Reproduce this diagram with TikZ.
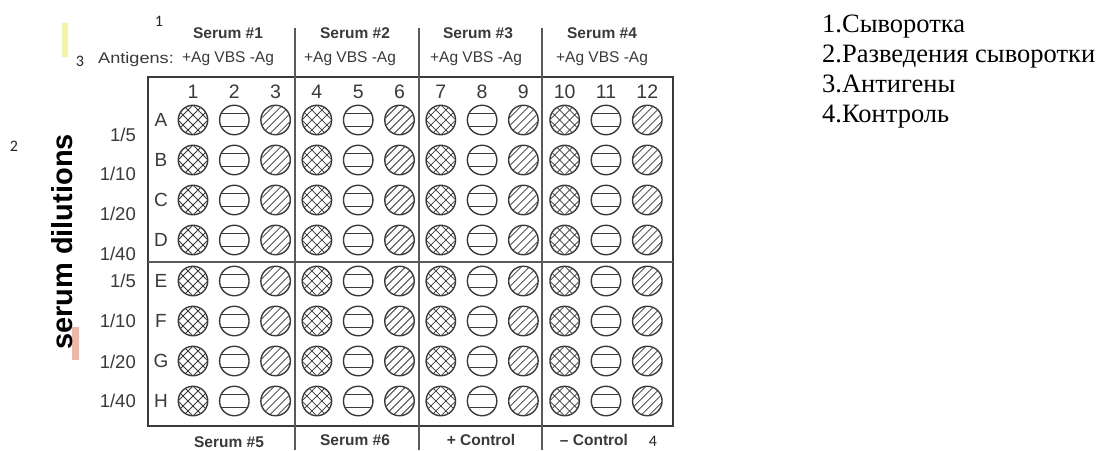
\documentclass[tikz,border=0pt]{standalone}
\usepackage{fontspec}
\setmainfont{Liberation Sans}
\newfontfamily\serifru{Liberation Serif}
\newfontfamily\calib{Carlito}
\definecolor{ink}{HTML}{3A3A3A}
\definecolor{lineg}{HTML}{5A5A5A}
\definecolor{hlyel}{HTML}{F3F3A6}
\definecolor{hlpink}{HTML}{F4B6A4}
\tikzset{
  well/.style={circle, draw=ink, line width=1.4pt, minimum size=29.5pt, inner sep=0pt},
  hatch/.style={draw=ink, line width=0.75pt},
  hdr/.style={font=\fontsize{15.5}{15}\selectfont\bfseries, text=ink, inner sep=0pt},
  agtxt/.style={font=\fontsize{15.5}{16}\selectfont, text=ink, inner sep=0pt},
  colnum/.style={font=\fontsize{19.5}{19}\selectfont, text=ink, inner sep=0pt},
  rowlet/.style={font=\fontsize{19}{19}\selectfont, text=ink, inner sep=0pt},
  dil/.style={font=\fontsize{18.5}{18}\selectfont, text=ink, inner sep=0pt, anchor=east},
  vlabel/.style={font=\fontsize{29}{29}\selectfont\bfseries, text=black, inner sep=0pt, rotate=90, anchor=base},
  legend/.style={font=\serifru\fontsize{26.5}{26}\selectfont, text=black, inner sep=0pt, anchor=base west},
  marknum/.style={font=\calib\fontsize{16}{16}\selectfont, text=black!85, inner sep=0pt},
  divider/.style={draw=lineg, line width=1.2pt},
  plate/.style={draw=ink, line width=1.8pt},
}
\begin{document}
\begin{tikzpicture}[x=1pt,y=-1pt]
\useasboundingbox (0,0) rectangle (1097,450);
\fill[white] (0,0) rectangle (1097,450);

% highlight bars
\fill[hlyel] (62,23) rectangle (68,57);
\fill[hlpink] (72,327) rectangle (79,360);

% plate frame and dividers
\draw[plate] (148,77) rectangle (673,426);
\draw[divider] (148,262) -- (673,262);
\draw[divider] (295,28) -- (295,450);
\draw[divider] (419,28) -- (419,450);
\draw[divider] (542,28) -- (542,450);

% headers
\node[hdr] (s1) at (228,33) {Serum \#1};
\node[hdr] (s2) at (355,33) {Serum \#2};
\node[hdr] (s3) at (478,33) {Serum \#3};
\node[hdr] (s4) at (602,33) {Serum \#4};
\node[agtxt, xscale=1.17] (antig) at (136,59) {Antigens:};
\node[agtxt] (ag1) at (228,59) {+Ag VBS -Ag};
\node[agtxt] (ag2) at (350,59) {+Ag VBS -Ag};
\node[agtxt] (ag3) at (476,59) {+Ag VBS -Ag};
\node[agtxt] (ag4) at (602,59) {+Ag VBS -Ag};

% bottom labels
\node[hdr] (s5) at (229,442) {Serum \#5};
\node[hdr] (s6) at (355,440) {Serum \#6};
\node[hdr] (pc) at (481,440) {+ Control};
\node[hdr] (nc) at (594,440) {\textendash\ Control};

% column numbers
\foreach \c in {1,...,12} {
  \pgfmathsetmacro{\x}{193+41.3*(\c-1)}
  \node[colnum] (col\c) at (\x,92) {\c};
}

% wells
\foreach \r [count=\i from 0] in {A,B,C,D,E,F,G,H} {
  \pgfmathsetmacro{\y}{120+40*\i+(\i>3 ? 1 : 0)}
  \node[rowlet] (row\r) at (161,\y) {\r};
  \foreach \c in {1,...,12} {
    \pgfmathsetmacro{\x}{193+41.3*(\c-1)}
    \pgfmathtruncatemacro{\t}{mod(\c-1,3)}
    \node[well] (w\r\c) at (\x,\y) {};
    \begin{scope}[shift={(w\r\c.center)}]
      \clip (0,0) circle (14.2pt);
      \ifnum\t=0
        \foreach \d in {-15,-5,5,15} {
          \draw[hatch] (\d-20,20) -- (\d+20,-20);
          \draw[hatch] (\d-20,-20) -- (\d+20,20);
        }
      \fi
      \ifnum\t=1
        \draw[hatch, line width=1.2pt] (-16,-6.5) -- (16,-6.5);
        \draw[hatch, line width=1.2pt] (-16,6.5) -- (16,6.5);
      \fi
      \ifnum\t=2
        \foreach \d in {-16,-8,0,8,16} {
          \draw[hatch] (\d-20,20) -- (\d+20,-20);
        }
      \fi
    \end{scope}
  }
}

% dilution labels
\node[dil] (d1) at (136,135) {1/5};
\node[dil] (d2) at (136,174) {1/10};
\node[dil] (d3) at (136,214) {1/20};
\node[dil] (d4) at (136,254) {1/40};
\node[dil] (d5) at (136,281) {1/5};
\node[dil] (d6) at (136,321) {1/10};
\node[dil] (d7) at (136,362) {1/20};
\node[dil] (d8) at (136,401) {1/40};

\node[vlabel] (sd) at (72,242) {serum dilutions};

% marker numbers
\node[marknum] (m1) at (159,21) {1};
\node[marknum] (m3) at (80,61) {3};
\node[marknum] (m2) at (14,146) {2};
\node[marknum] (m4) at (653,441) {4};

% legend
\node[legend] (l1) at (822,32) {1.Сыворотка};
\node[legend] (l2) at (822,62) {2.Разведения сыворотки};
\node[legend] (l3) at (822,92) {3.Антигены};
\node[legend] (l4) at (822,122) {4.Контроль};
\end{tikzpicture}
\end{document}
